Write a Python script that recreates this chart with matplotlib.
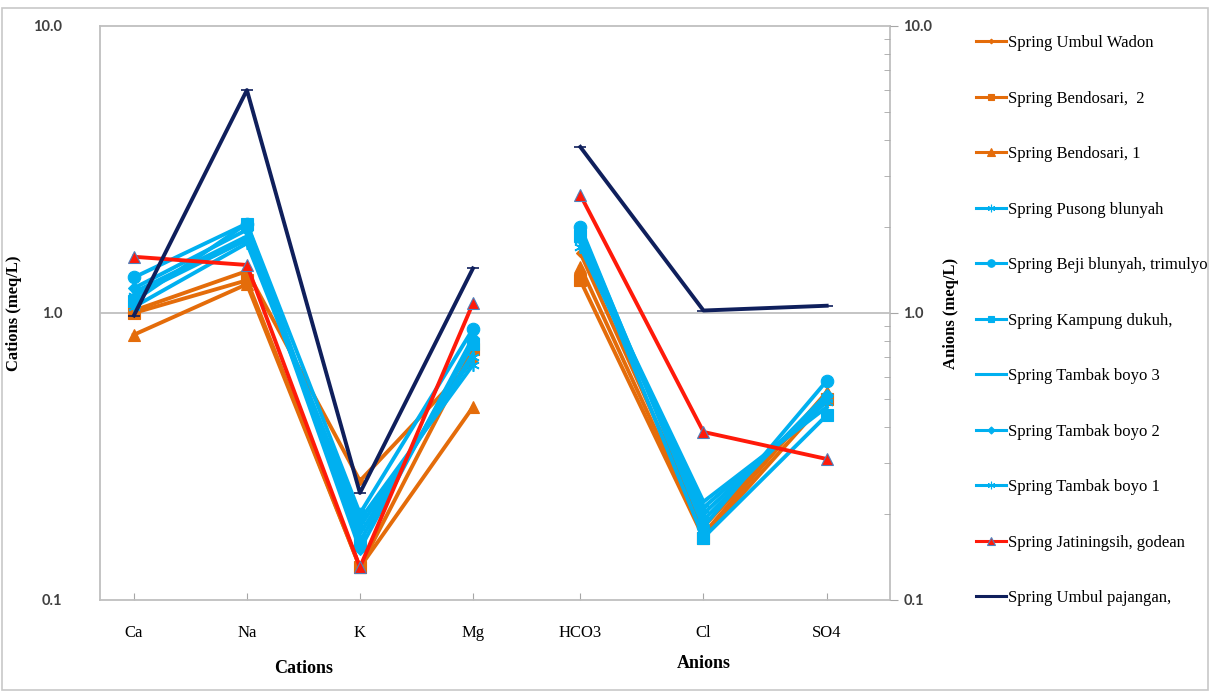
import numpy as np
import matplotlib.pyplot as plt
from matplotlib.lines import Line2D
from matplotlib.patches import Rectangle
from matplotlib.ticker import FixedLocator, LogLocator, NullFormatter

plt.rcParams['font.family'] = ['Liberation Serif', 'DejaVu Serif']

# categories
cations = ['Ca', 'Na', 'K', 'Mg']
anions = ['HCO3', 'Cl', 'SO4']

# spring names
names = [
    'Spring Umbul Wadon',
    'Spring Bendosari,  2',
    'Spring Bendosari, 1',
    'Spring Pusong blunyah',
    'Spring Beji blunyah, trimulyo',
    'Spring Kampung dukuh,',
    'Spring Tambak boyo 3',
    'Spring Tambak boyo 2',
    'Spring Tambak boyo 1',
    'Spring Jatiningsih, godean',
    'Spring Umbul pajangan,',
]

# cation values (meq/L): Ca, Na, K, Mg
umbul_wadon_cat = [1.02, 1.40, 0.26, 0.68]
bendosari2_cat = [1.00, 1.30, 0.13, 0.75]
bendosari1_cat = [0.84, 1.26, 0.13, 0.47]
pusong_cat = [1.05, 1.75, 0.18, 0.70]
beji_cat = [1.33, 2.05, 0.20, 0.88]
kampung_cat = [1.10, 2.05, 0.16, 0.78]
tambak3_cat = [1.18, 1.85, 0.17, 0.72]
tambak2_cat = [1.22, 1.95, 0.15, 0.82]
tambak1_cat = [1.15, 1.80, 0.19, 0.66]
jatiningsih_cat = [1.57, 1.47, 0.13, 1.08]
pajangan_cat = [0.98, 5.98, 0.236, 1.43]

# anion values (meq/L): HCO3, Cl, SO4
umbul_wadon_an = [1.62, 0.18, 0.52]
bendosari2_an = [1.30, 0.165, 0.50]
bendosari1_an = [1.45, 0.17, 0.53]
pusong_an = [1.80, 0.20, 0.50]
beji_an = [2.00, 0.18, 0.58]
kampung_an = [1.85, 0.165, 0.44]
tambak3_an = [1.75, 0.22, 0.47]
tambak2_an = [1.95, 0.19, 0.52]
tambak1_an = [1.70, 0.21, 0.49]
jatiningsih_an = [2.58, 0.385, 0.31]
pajangan_an = [3.79, 1.02, 1.06]

cat_data = [umbul_wadon_cat, bendosari2_cat, bendosari1_cat, pusong_cat, beji_cat,
            kampung_cat, tambak3_cat, tambak2_cat, tambak1_cat, jatiningsih_cat, pajangan_cat]
an_data = [umbul_wadon_an, bendosari2_an, bendosari1_an, pusong_an, beji_an,
           kampung_an, tambak3_an, tambak2_an, tambak1_an, jatiningsih_an, pajangan_an]

ORANGE = '#E46C0A'
BLUE = '#00B0F0'
RED = '#FF1A0A'
NAVY = '#0F1F5C'

styles = [
    dict(color=ORANGE, marker='D', ms=4),
    dict(color=ORANGE, marker='s', ms=8),
    dict(color=ORANGE, marker='^', ms=9),
    dict(color=BLUE, marker=(6, 2, 0), ms=9),
    dict(color=BLUE, marker='o', ms=9),
    dict(color=BLUE, marker='s', ms=8),
    dict(color=BLUE, marker=None, ms=0),
    dict(color=BLUE, marker='D', ms=6),
    dict(color=BLUE, marker=(6, 2, 0), ms=9),
    dict(color=RED, marker='^', ms=9),
    dict(color=NAVY, marker='_', ms=8),
]

# category positions along the shared x axis
cat_x = np.arange(len(cations))
an_x = np.array([3.95, 5.04, 6.13])

fig = plt.figure(figsize=(12.12, 6.93), dpi=100)
ax = fig.add_axes([0.0825, 0.1342, 0.6518, 0.8283])

for vals_c, vals_a, st in zip(cat_data, an_data, styles):
    mec = '#4F81BD' if st['color'] == RED else st['color']
    kw = dict(color=st['color'], lw=2.8, marker=st['marker'], ms=st['ms'],
              mec=mec, mew=1.2 if st['marker'] in [(6, 2, 0), '_'] else 0.8)
    ax.plot(cat_x, vals_c, **kw)
    ax.plot(an_x, vals_a, **kw)

ax.set_yscale('log')
ax.set_ylim(0.1, 10)
ax.set_xlim(-0.30, 6.69)
ax.axhline(1.0, color='#BFBFBF', lw=1.3, zorder=0)

ax.set_xticks(list(cat_x) + list(an_x))
ax.set_xticklabels(cations + anions, fontsize=12)
ax.tick_params(axis='x', direction='in', length=5, color='#A6A6A6', pad=18)

ax.yaxis.set_major_locator(FixedLocator([0.1, 1.0, 10.0]))
ax.set_yticklabels(['0.1', '1.0', '10.0'])
ax.yaxis.set_minor_formatter(NullFormatter())
ax.tick_params(axis='y', which='major', length=0, color='#A6A6A6', labelsize=10.5, pad=27)
ax.tick_params(axis='y', which='minor', length=0)
for lab in ax.get_yticklabels():
    lab.set_family(['Lato', 'DejaVu Sans'])
    lab.set_fontweight('bold')
    lab.set_color('#404040')

for side in ['left', 'right', 'top', 'bottom']:
    ax.spines[side].set_color('#BFBFBF')
    ax.spines[side].set_linewidth(1.3)

ax.set_ylabel('Cations (meq/L)', fontsize=12, fontweight='bold', labelpad=8)

# right axis for anions
ax2 = ax.twinx()
ax2.set_yscale('log')
ax2.set_ylim(0.1, 10)
ax2.yaxis.set_major_locator(FixedLocator([0.1, 1.0, 10.0]))
ax2.yaxis.set_minor_locator(LogLocator(base=10, subs=np.arange(2, 10)))
ax2.yaxis.set_minor_formatter(NullFormatter())
ax2.set_yticklabels(['0.1', '1.0', '10.0'])
ax2.tick_params(axis='y', which='major', length=6, color='#A6A6A6', labelsize=10.5, direction='out')
ax2.tick_params(axis='y', which='minor', length=4, color='#A6A6A6', direction='in')
for lab in ax2.get_yticklabels():
    lab.set_family(['Lato', 'DejaVu Sans'])
    lab.set_fontweight('bold')
    lab.set_color('#404040')
for side in ['left', 'right', 'top', 'bottom']:
    ax2.spines[side].set_visible(False)
ax2.set_ylabel('Anions (meq/L)', fontsize=12, fontweight='bold', labelpad=8)

# group labels under the categories
ax.text(cat_x.mean(), -0.12, 'Cations', transform=ax.get_xaxis_transform(),
        ha='center', va='center', fontsize=13, fontweight='bold')
ax.text(an_x[1], -0.11, 'Anions', transform=ax.get_xaxis_transform(),
        ha='center', va='center', fontsize=13, fontweight='bold')

# legend
handles = []
for name, st in zip(names, styles):
    mec = '#4F81BD' if st['color'] == RED else st['color']
    handles.append(Line2D([], [], color=st['color'], lw=2.2, marker=st['marker'],
                          ms=max(st['ms'] * 0.6, 0), mec=mec, mew=0.8, label=name))
fig.legend(handles=handles, loc='upper left', bbox_to_anchor=(0.7995, 0.959),
           frameon=False, fontsize=12, handlelength=1.8, handletextpad=0.15,
           labelspacing=2.37, borderaxespad=0)

# outer frame
fig.add_artist(Rectangle((0.002, 0.004), 0.995, 0.985, transform=fig.transFigure,
                         fill=False, edgecolor='#C8C8C8', lw=1.2))

fig.savefig('out.png', dpi=100)
